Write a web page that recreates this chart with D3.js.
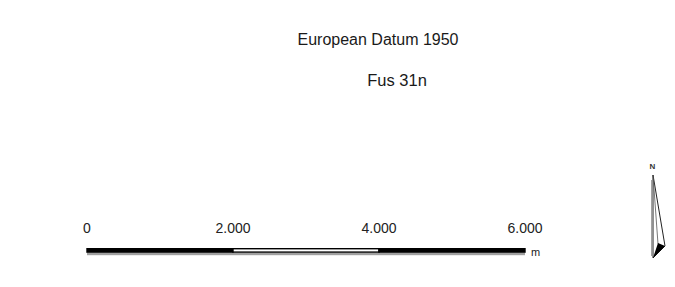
<!DOCTYPE html>
<html>
<head>
<meta charset="utf-8">
<script src="https://cdn.jsdelivr.net/npm/d3@7"></script>
<style>
  body { margin: 0; background: #fff; }
  svg { display: block; font-family: Arial, "Liberation Sans", sans-serif; }
</style>
</head>
<body>
<svg id="board" width="675" height="287"></svg>
<script>
// scale bar data
const titleLines = ["European Datum 1950", "Fus 31n"];
const tickValues = [0, 2000, 4000, 6000];
const segmentStarts = [0, 2000, 4000];
const segmentEnds = [2000, 4000, 6000];
const segmentFills = ["#000", "#fff", "#000"];
const unitLabel = "m";

const svg = d3.select("#board");

const locale = d3.formatLocale({decimal: ",", thousands: ".", grouping: [3], currency: ["", ""]});
const fmt = locale.format(",d");

let xScale = d3.scaleLinear().domain([0, 6000]).range([87, 525]);

// titles
svg.append("text")
    .attr("x", 378).attr("y", 45)
    .attr("text-anchor", "middle")
    .attr("font-size", 16)
    .attr("fill", "#1a1a1a")
    .text(titleLines[0]);
svg.append("text")
    .attr("x", 397).attr("y", 86)
    .attr("text-anchor", "middle")
    .attr("font-size", 16.5)
    .attr("fill", "#1a1a1a")
    .text(titleLines[1]);

// grey shadow under the bar
svg.append("rect")
    .attr("x", xScale(0))
    .attr("y", 252.8)
    .attr("width", xScale(6000) - xScale(0))
    .attr("height", 2.4)
    .attr("fill", "#a0a0a0");

const segs = segmentStarts.map((s, i) => ({start: s, end: segmentEnds[i], fill: segmentFills[i]}));
svg.selectAll(".seg")
    .data(segs)
    .enter()
    .append("rect")
    .attr("class", "seg")
    .attr("x", d => xScale(d.start))
    .attr("y", 248.7)
    .attr("width", d => xScale(d.end) - xScale(d.start))
    .attr("height", 3.4)
    .attr("fill", d => d.fill)
    .attr("stroke", "#000")
    .attr("stroke-width", 1.4);

// tick labels
svg.selectAll(".tick-label")
    .data(tickValues)
    .enter()
    .append("text")
    .attr("class", "tick-label")
    .attr("x", d => xScale(d))
    .attr("y", 233)
    .attr("text-anchor", "middle")
    .attr("font-size", 14)
    .attr("fill", "#222")
    .text(d => fmt(d));

svg.append("text")
    .attr("x", xScale(6000) + 6)
    .attr("y", 255.5)
    .attr("font-size", 11)
    .attr("fill", "#222")
    .text(unitLabel);

// north arrow
const na = svg.append("g");
na.append("text")
    .attr("x", 652.5).attr("y", 169)
    .attr("text-anchor", "middle")
    .attr("font-size", 8)
    .attr("font-weight", "bold")
    .attr("fill", "#333")
    .text("N");
na.append("path")
    .attr("d", "M653,175 L665,246 L653,258 Z")
    .attr("fill", "#fff")
    .attr("stroke", "#222")
    .attr("stroke-width", 1);
na.append("path")
    .attr("d", "M653,175 L658,244")
    .attr("stroke", "#555")
    .attr("stroke-width", 0.8);
na.append("path")
    .attr("d", "M651.5,180 L651.5,256")
    .attr("stroke", "#999")
    .attr("stroke-width", 0.9);
na.append("path")
    .attr("d", "M653,258 L665,246 L658,243 Z")
    .attr("fill", "#000");
</script>
</body>
</html>
